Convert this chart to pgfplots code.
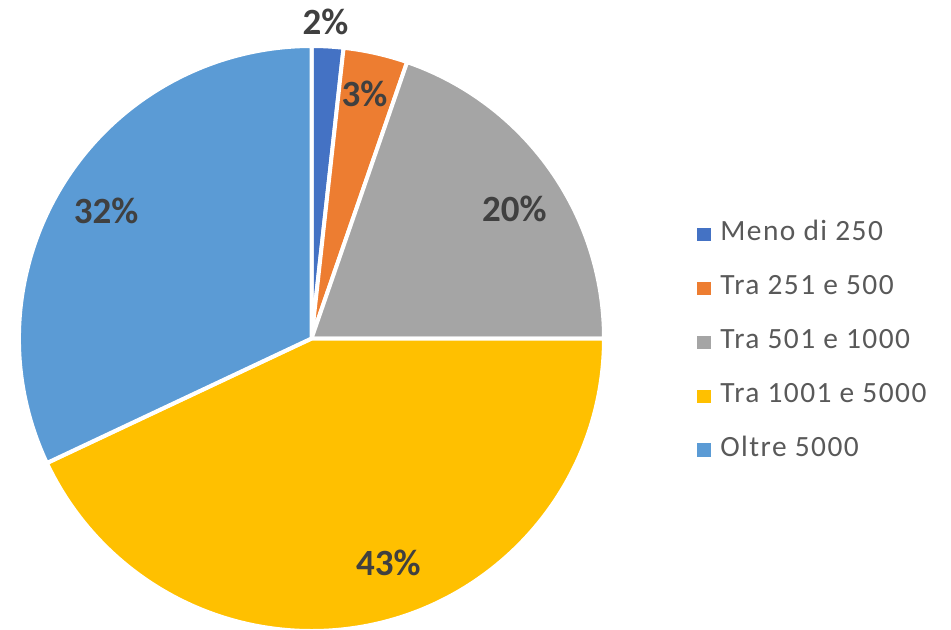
\documentclass[border=0pt]{standalone}
\usepackage{pgfplots}
\pgfplotsset{compat=1.18}
\usepackage{pgfplotstable}
\usepackage{fontspec}
\setmainfont{Carlito}
\newfontfamily\legfont[LetterSpace=5]{Carlito}
\definecolor{cA}{HTML}{4472C4}
\definecolor{cB}{HTML}{ED7D31}
\definecolor{cC}{HTML}{A5A5A5}
\definecolor{cD}{HTML}{FFC000}
\definecolor{cE}{HTML}{5B9BD5}
\definecolor{lbl}{HTML}{404040}
\definecolor{legtext}{HTML}{595959}

% share of each class (percent)
\pgfplotstableread{
slice value
1 1.75
2 3.55
3 19.7
4 43.0
5 32.0
}\piedata

\pgfplotstablegetelem{0}{value}\of\piedata \let\vA\pgfplotsretval
\pgfplotstablegetelem{1}{value}\of\piedata \let\vB\pgfplotsretval
\pgfplotstablegetelem{2}{value}\of\piedata \let\vC\pgfplotsretval
\pgfplotstablegetelem{3}{value}\of\piedata \let\vD\pgfplotsretval
\pgfplotstablegetelem{4}{value}\of\piedata \let\vE\pgfplotsretval
\pgfmathsetmacro\aA{90}
\pgfmathsetmacro\aB{\aA-3.6*\vA}
\pgfmathsetmacro\aC{\aB-3.6*\vB}
\pgfmathsetmacro\aD{\aC-3.6*\vC}
\pgfmathsetmacro\aE{\aD-3.6*\vD}
\pgfmathsetmacro\aF{\aE-3.6*\vE}
\def\R{146.25pt}

\newcommand\slice[3]{%
  \filldraw[fill=#1,draw=white,line width=2pt,line join=round]
    (axis cs:311.5,290.5) -- ++(#2:\R) arc[start angle=#2,end angle=#3,radius=\R] -- cycle;}

\begin{document}
\begin{tikzpicture}
\begin{axis}[
  name=ax,
  width=475.5pt, height=314.5pt, scale only axis,
  xmin=0, xmax=951, ymin=0, ymax=629,
  xtick=\empty, ytick=\empty,
  hide axis, clip=false,
  legend cell align=left,
  legend style={draw=none, fill=none, at={(axis cs:697,289)}, anchor=west,
    inner sep=0pt, outer sep=0pt,
    font=\legfont\fontsize{14.7}{17}\selectfont, text=legtext,
    row sep=14.5pt,
    nodes={inner sep=0pt, text height=10.5pt, text depth=0pt},
    cells={anchor=base west},
    /tikz/every odd column/.append style={column sep=5pt}},
]
\slice{cA}{\aA}{\aB}
\slice{cB}{\aB}{\aC}
\slice{cC}{\aC}{\aD}
\slice{cD}{\aD}{\aE}
\slice{cE}{\aE}{\aF}

\begin{scope}[every node/.style={font=\fontsize{18.5}{21}\selectfont\bfseries, text=lbl, inner sep=0pt}]
\node at (axis cs:325.5,607.5) {2\%};
\node at (axis cs:364.5,535.5) {3\%};
\node at (axis cs:514.3,419.7) {20\%};
\node at (axis cs:388.3,66.2) {43\%};
\node at (axis cs:106.2,417.8) {32\%};
\end{scope}

\addlegendimage{legend image code/.code={\path (0pt,-1.75pt); \fill[cA] (0pt,0pt) rectangle (6.25pt,6.25pt);}}
\addlegendentry{Meno di 250}
\addlegendimage{legend image code/.code={\path (0pt,-1.75pt); \fill[cB] (0pt,0pt) rectangle (6.25pt,6.25pt);}}
\addlegendentry{Tra 251 e 500}
\addlegendimage{legend image code/.code={\path (0pt,-1.75pt); \fill[cC] (0pt,0pt) rectangle (6.25pt,6.25pt);}}
\addlegendentry{Tra 501 e 1000}
\addlegendimage{legend image code/.code={\path (0pt,-1.75pt); \fill[cD] (0pt,0pt) rectangle (6.25pt,6.25pt);}}
\addlegendentry{Tra 1001 e 5000}
\addlegendimage{legend image code/.code={\path (0pt,-1.75pt); \fill[cE] (0pt,0pt) rectangle (6.25pt,6.25pt);}}
\addlegendentry{Oltre 5000}
\end{axis}
\pgfresetboundingbox
\useasboundingbox (ax.south west) rectangle (ax.north east);
\end{tikzpicture}
\end{document}
